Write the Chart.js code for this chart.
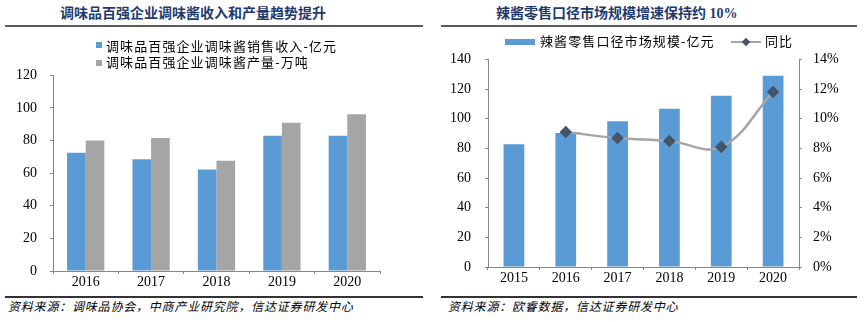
<!DOCTYPE html>
<html>
<head>
    <meta charset="utf-8">
    <title>调味品 / 辣酱</title>
    <script src="https://cdn.jsdelivr.net/npm/chart.js"></script>
    <style>
        body {
            margin: 0;
            width: 866px;
            height: 322px;
            background: #fff;
            position: relative;
            overflow: hidden;
            font-family: "Liberation Serif", "Noto Sans CJK SC", serif;
        }
        .title {
            position: absolute;
            top: 4px;
            height: 20px;
            line-height: 20px;
            font-size: 14px;
            font-weight: bold;
            color: #1f3b6e;
            white-space: nowrap;
        }
        .rule {
            position: absolute;
            height: 2px;
            background: #5a5a5a;
        }
        .legend {
            position: absolute;
            font-size: 13px;
            letter-spacing: 1.1px;
            line-height: 16px;
            color: #000;
            white-space: nowrap;
        }
        .sw {
            position: absolute;
        }
        .source {
            position: absolute;
            top: 299px;
            font-size: 12px;
            letter-spacing: 0.8px;
            font-style: italic;
            line-height: 16px;
            white-space: nowrap;
        }
        canvas {
            position: absolute;
        }
    </style>
</head>
<body>
    <!-- 左图 -->
    <canvas id="leftChart" width="433" height="241" style="left:0; top:54px;"></canvas>
    <div class="title" style="left:60px;">调味品百强企业调味酱收入和产量趋势提升</div>
    <div class="rule" style="left:5px; width:418px; top:25px;"></div>
    <div class="sw" id="swRev" style="left:96px; top:42px; width:6px; height:6px;"></div>
    <div class="legend" style="left:106px; top:39px;">调味品百强企业调味酱销售收入-亿元</div>
    <div class="sw" id="swOut" style="left:96px; top:60px; width:6px; height:6px;"></div>
    <div class="legend" style="left:106px; top:55px;">调味品百强企业调味酱产量-万吨</div>
    <div class="rule" style="left:5px; width:418px; top:296px; background:#333;"></div>
    <div class="source" style="left:8px;">资料来源：调味品协会，中商产业研究院，信达证券研发中心</div>

    <!-- 右图 -->
    <canvas id="rightChart" width="433" height="254" style="left:433px; top:37px;"></canvas>
    <div class="title" style="left:496px;">辣酱零售口径市场规模增速保持约 10%</div>
    <div class="rule" style="left:441px; width:416px; top:25px;"></div>
    <div class="sw" id="swSize" style="left:505px; top:39px; width:30px; height:6px;"></div>
    <div class="legend" style="left:540px; top:34px;">辣酱零售口径市场规模-亿元</div>
    <div class="sw" id="swLine" style="left:731px; top:41px; width:30px; height:2px;"></div>
    <div class="sw" id="swDot" style="left:743px; top:39px; width:6px; height:6px; transform:rotate(45deg);"></div>
    <div class="legend" style="left:765px; top:34px;">同比</div>
    <div class="rule" style="left:441px; width:416px; top:296px; background:#333;"></div>
    <div class="source" style="left:448px;">资料来源：欧睿数据，信达证券研发中心</div>

    <script>
        // 左图数据
        const leftYears = ['2016', '2017', '2018', '2019', '2020'];
        const revenue = [72.6, 68.5, 62.2, 83.0, 83.0];   // 销售收入-亿元
        const output = [80.0, 81.6, 67.7, 91.0, 96.1];    // 产量-万吨

        // 右图数据
        const rightYears = ['2015', '2016', '2017', '2018', '2019', '2020'];
        const marketSize = [82.8, 90.4, 98.3, 106.8, 115.5, 128.9]; // 市场规模-亿元
        const yoy = [null, 9.1, 8.7, 8.5, 8.1, 11.8];              // 同比 %

        const blue = '#5b9bd5';
        const gray = '#a5a5a5';
        const dark = '#44546a';
        const axisColor = '#868686';

        document.getElementById('swRev').style.background = blue;
        document.getElementById('swOut').style.background = gray;
        document.getElementById('swSize').style.background = blue;
        document.getElementById('swLine').style.background = gray;
        document.getElementById('swDot').style.background = dark;

        Chart.defaults.font.family = '"Liberation Serif", "Times New Roman", serif';
        Chart.defaults.font.size = 14;
        Chart.defaults.color = '#000';

        const tickFont = { family: '"Liberation Serif", serif', size: 14 };

        new Chart(document.getElementById('leftChart').getContext('2d'), {
            type: 'bar',
            data: {
                labels: leftYears,
                datasets: [{
                    label: '调味品百强企业调味酱销售收入-亿元',
                    data: revenue,
                    backgroundColor: blue,
                    categoryPercentage: 0.57,
                    barPercentage: 1.0
                }, {
                    label: '调味品百强企业调味酱产量-万吨',
                    data: output,
                    backgroundColor: gray,
                    categoryPercentage: 0.57,
                    barPercentage: 1.0
                }]
            },
            options: {
                responsive: false,
                animation: false,
                devicePixelRatio: 1,
                layout: { padding: { top: 7, right: 53, left: 0, bottom: 0 } },
                plugins: { legend: { display: false }, tooltip: { enabled: false } },
                scales: {
                    x: {
                        grid: { drawOnChartArea: false, tickLength: 3, color: axisColor, offset: true },
                        border: { color: axisColor },
                        ticks: { font: tickFont, padding: 0 },
                        afterFit: s => { s.height = 24; }
                    },
                    y: {
                        min: 0,
                        max: 120,
                        grid: { drawOnChartArea: false, tickLength: 3, color: axisColor },
                        border: { color: axisColor },
                        ticks: { stepSize: 20, font: tickFont, padding: 13 },
                        afterFit: s => { s.width = 53; }
                    }
                }
            }
        });

        new Chart(document.getElementById('rightChart').getContext('2d'), {
            type: 'bar',
            data: {
                labels: rightYears,
                datasets: [{
                    type: 'line',
                    label: '同比',
                    data: yoy,
                    yAxisID: 'y1',
                    borderColor: gray,
                    borderWidth: 2.5,
                    tension: 0.4,
                    pointStyle: 'rectRot',
                    pointRadius: 4.5,
                    pointBackgroundColor: dark,
                    pointBorderColor: dark,
                    order: 0
                }, {
                    label: '辣酱零售口径市场规模-亿元',
                    data: marketSize,
                    backgroundColor: blue,
                    categoryPercentage: 0.4,
                    barPercentage: 1.0,
                    order: 1
                }]
            },
            options: {
                responsive: false,
                animation: false,
                devicePixelRatio: 1,
                layout: { padding: { top: 6, right: 0, left: 0, bottom: 0 } },
                plugins: { legend: { display: false }, tooltip: { enabled: false } },
                scales: {
                    x: {
                        grid: { drawOnChartArea: false, tickLength: 3, color: axisColor, offset: true },
                        border: { color: axisColor },
                        ticks: { font: tickFont, padding: 0 },
                        afterFit: s => { s.height = 24; }
                    },
                    y: {
                        min: 0,
                        max: 140,
                        grid: { drawOnChartArea: false, tickLength: 3, color: axisColor },
                        border: { color: axisColor },
                        ticks: { stepSize: 20, font: tickFont, padding: 14 },
                        afterFit: s => { s.width = 55; }
                    },
                    y1: {
                        position: 'right',
                        min: 0,
                        max: 14,
                        grid: { drawOnChartArea: false, tickLength: 3, color: axisColor },
                        border: { color: axisColor },
                        ticks: { stepSize: 2, font: tickFont, padding: 11, callback: v => v + '%' },
                        afterFit: s => { s.width = 67; }
                    }
                }
            }
        });
    </script>
</body>
</html>
